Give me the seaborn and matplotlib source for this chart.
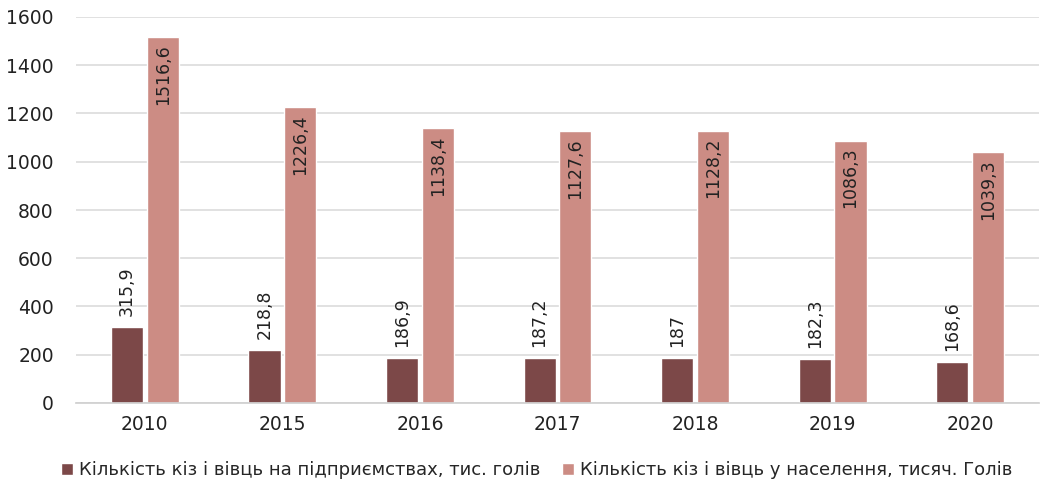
import matplotlib
matplotlib.use("Agg")
import matplotlib.pyplot as plt
import seaborn as sns
import pandas as pd

years = ["2010", "2015", "2016", "2017", "2018", "2019", "2020"]
enterprises = [315.9, 218.8, 186.9, 187.2, 187.0, 182.3, 168.6]
households = [1516.6, 1226.4, 1138.4, 1127.6, 1128.2, 1086.3, 1039.3]
series_names = [
    "Кількість кіз і вівць на підприємствах, тис. голів",
    "Кількість кіз і вівць у населення, тисяч. Голів",
]
colors = ["#7c4848", "#cc8c84"]

df = pd.DataFrame({
    "year": years * 2,
    "value": enterprises + households,
    "series": [series_names[0]] * len(years) + [series_names[1]] * len(years),
})

sns.set_theme(style="white")
plt.rcParams["font.family"] = ["DejaVu Sans"]

fig, ax = plt.subplots(figsize=(10.4, 4.86), dpi=100)
fig.subplots_adjust(left=76 / 1040, right=1039 / 1040, top=1 - 17 / 486, bottom=1 - 403 / 486)

sns.barplot(data=df, x="year", y="value", hue="series", palette=colors,
            width=0.52, gap=0.1, ax=ax, saturation=1, legend=True)

def fmt(v):
    return f"{v:g}".replace(".", ",")

c0, c1 = ax.containers[0], ax.containers[1]
ax.bar_label(c0, labels=[fmt(v) for v in enterprises], rotation=90,
             padding=8, fontsize=12.5, color="#222222")
lbls = ax.bar_label(c1, labels=[fmt(v) for v in households], rotation=90,
                    padding=-5, fontsize=12.5, color="#222222")
for t in lbls:
    t.set_va("top")

ax.set_ylim(0, 1600)
ax.set_yticks(range(0, 1601, 200))
ax.set_xlim(-0.5, len(years) - 0.5)
ax.grid(axis="y", color="#dcdcdc", linewidth=1.2)
ax.set_axisbelow(True)
for s in ax.spines.values():
    s.set_visible(False)
ax.spines["bottom"].set_visible(True)
ax.spines["bottom"].set_color("#d0d0d0")
ax.set_xlabel("")
ax.set_ylabel("")
ax.tick_params(axis="both", labelsize=13.5, colors="#222222", length=0)
ax.tick_params(axis="x", pad=9)
ax.tick_params(axis="y", pad=16)

ax.legend(loc="lower center", bbox_to_anchor=(0.478, -0.24), ncol=2, frameon=False,
          fontsize=13, handlelength=0.7, handleheight=0.7, handletextpad=0.3,
          columnspacing=1.2)

fig.savefig("out.png", dpi=100)
